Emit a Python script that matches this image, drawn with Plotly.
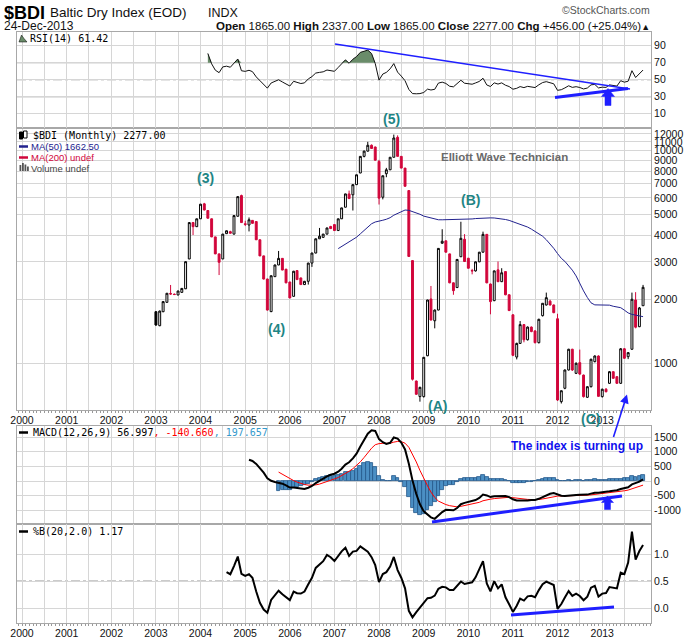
import math
import pandas as pd
import plotly.graph_objects as go

# ---------------- data (monthly $BDI candles, Jan 2003 .. Dec 2013) ----------------
months = pd.date_range("2003-01-01", periods=132, freq="MS").strftime("%Y-%m-%d").tolist()

opens = [1748, 1502, 1748, 1935, 2130, 2112, 2095, 2155, 2240, 3095, 4590, 4390,
         4780, 5620, 5230, 4780, 3930, 3270, 3095, 4070, 4160, 4050, 4915, 6150,
         4530, 4470, 4700, 4640, 3810, 3200, 2490, 1750, 2555, 2900, 3115, 2770,
         2410, 2065, 2730, 2520, 2345, 2430, 2960, 3300, 3850, 3910, 4050, 4400,
         4490, 4210, 4780, 5420, 6260, 6200, 6920, 7850, 9400, 9950, 10600, 10400,
         8900, 6040, 7790, 8130, 9310, 11550, 9400, 8280, 6490, 3040, 825, 697,
         697, 1085, 2006, 1585, 1780, 3670, 3765, 3270, 2390, 2270, 3170, 3830,
         3120, 2730, 2720, 3000, 3330, 4040, 2360, 1970, 2750, 2420, 2700, 2100,
         1690, 1070, 1240, 1520, 1290, 1480, 1420, 1250, 1675, 1880, 1960, 1880,
         1620, 660, 763, 930, 1164, 897, 1007, 880, 692, 776, 1018, 1082,
         697, 755, 805, 913, 865, 805, 1170, 1074, 1164, 1985, 1486, 1865]

highs = [1760, 1770, 1960, 2140, 2335, 2130, 2195, 2260, 3010, 4600, 4620, 4790,
         5620, 5680, 5250, 4800, 3940, 3280, 4060, 4210, 4200, 4960, 6090, 6210,
         4680, 4850, 4720, 4650, 3820, 3210, 2500, 2590, 2910, 3375, 3120, 2780,
         2420, 2720, 2740, 2530, 2440, 2970, 3310, 3860, 4330, 4060, 4340, 4430,
         4500, 4790, 5390, 6270, 6490, 6930, 7710, 9420, 10000, 11000, 10700, 10450,
         9050, 7630, 8300, 9320, 11900, 11800, 9410, 8290, 6500, 3060, 830, 775,
         1070, 1990, 2310, 1790, 3480, 4270, 3780, 3280, 2400, 3090, 4630, 4050,
         3130, 2780, 3010, 3340, 4160, 4050, 2370, 2730, 3010, 2800, 2710, 2110,
         1700, 1250, 1580, 1530, 1490, 1490, 1430, 1620, 1920, 2150, 1990, 1890,
         1710, 745, 935, 1170, 1170, 1010, 1160, 885, 780, 1050, 1090, 1090,
         760, 765, 920, 915, 870, 1180, 1180, 1130, 2150, 2160, 1840, 2337]

lows = [1500, 1495, 1740, 1930, 2100, 2095, 2090, 2150, 2235, 3090, 4010, 4380,
        4770, 5240, 4800, 3920, 3260, 2600, 3090, 4060, 4080, 4040, 4900, 4580,
        4420, 4170, 4540, 3800, 3190, 2480, 1770, 1740, 2550, 2895, 2740, 2380,
        2020, 2060, 2470, 2340, 2340, 2345, 2840, 3290, 3840, 3900, 4040, 4280,
        4200, 4200, 4770, 5410, 5940, 5230, 6910, 7840, 9300, 9900, 10200, 8990,
        5580, 5900, 7500, 8100, 9300, 9380, 8270, 6790, 3170, 830, 710, 660,
        690, 1080, 1590, 1460, 1775, 3650, 3320, 2380, 2100, 2260, 3160, 3000,
        2790, 2620, 2700, 2990, 3320, 2380, 1700, 1960, 2410, 2410, 2090, 1760,
        1080, 1043, 1235, 1255, 1280, 1400, 1240, 1240, 1660, 1870, 1870, 1720,
        665, 647, 755, 925, 920, 890, 880, 690, 688, 770, 1010, 697,
        690, 730, 800, 845, 800, 800, 1050, 1046, 1160, 1460, 1480, 1865]

closes = [1514, 1760, 1950, 2135, 2118, 2105, 2187, 2250, 3005, 4590, 4390, 4780,
          5600, 5260, 4810, 3930, 3270, 2985, 4050, 4200, 4090, 4950, 6080, 4590,
          4500, 4730, 4550, 3810, 3200, 2490, 1780, 2580, 2900, 3115, 2745, 2390,
          2030, 2710, 2475, 2345, 2430, 2960, 3300, 3850, 3960, 4050, 4330, 4300,
          4210, 4780, 5380, 6260, 5950, 6920, 7700, 9400, 9950, 10600, 10240, 9020,
          5980, 7620, 8130, 9310, 11470, 9400, 8280, 6800, 3180, 841, 715, 771,
          1067, 1985, 1598, 1780, 3470, 3750, 3330, 2390, 2196, 3080, 3870, 3010,
          2800, 2720, 3000, 3330, 4040, 2390, 1950, 2720, 2420, 2665, 2100, 1770,
          1090, 1240, 1520, 1290, 1480, 1410, 1250, 1610, 1915, 2035, 1880, 1730,
          672, 743, 930, 1164, 930, 1000, 890, 697, 776, 1045, 1082, 699,
          755, 735, 913, 850, 805, 1170, 1056, 1122, 2000, 1478, 1821, 2277]

year_labels = [str(y) for y in range(2000, 2014)]
price_ticks = [1000, 2000, 3000, 4000, 5000, 6000, 7000, 8000, 9000, 10000, 11000, 12000]
rsi_ticks = [10, 30, 50, 70, 90]
macd_ticks = [-1000, -500, 0, 500, 1000, 1500]
pctb_ticks = [0.0, 0.5, 1.0]
pctb_ticktext = ["0.0", "0.5", "1.0"]


# ---------------- indicators computed from the closes ----------------
def sma(vals, n):
    out = [None] * len(vals)
    for i in range(n - 1, len(vals)):
        out[i] = sum(vals[i - n + 1:i + 1]) / n
    return out


def ema(vals, n):
    out = [None] * len(vals)
    start = next(i for i, v in enumerate(vals) if v is not None)
    seed = start + n - 1
    if seed >= len(vals):
        return out
    out[seed] = sum(vals[start:seed + 1]) / n
    k = 2.0 / (n + 1)
    for i in range(seed + 1, len(vals)):
        out[i] = vals[i] * k + out[i - 1] * (1 - k)
    return out


def rsi(vals, n=14):
    out = [None] * len(vals)
    ch = [vals[i] - vals[i - 1] for i in range(1, len(vals))]
    g = [max(c, 0) for c in ch]
    l = [max(-c, 0) for c in ch]
    ag = sum(g[:n]) / n
    al = sum(l[:n]) / n
    out[n] = 100 - 100 / (1 + ag / al) if al > 0 else 100
    for i in range(n + 1, len(vals)):
        ag = (ag * (n - 1) + g[i - 1]) / n
        al = (al * (n - 1) + l[i - 1]) / n
        out[i] = 100 - 100 / (1 + ag / al) if al > 0 else 100
    return out


def pctb(vals, n=20, k=2.0):
    out = [None] * len(vals)
    for i in range(n - 1, len(vals)):
        w = vals[i - n + 1:i + 1]
        m = sum(w) / n
        sd = (sum((x - m) ** 2 for x in w) / n) ** 0.5
        out[i] = (vals[i] - (m - k * sd)) / (2 * k * sd) if sd > 0 else 0.5
    return out


ma50 = sma(closes, 50)
rsi14 = rsi(closes, 14)
e12 = ema(closes, 12)
e26 = ema(closes, 26)
macd = [a - b if (a is not None and b is not None) else None for a, b in zip(e12, e26)]
signal = ema(macd, 9)
hist = [a - b if (a is not None and b is not None) else None for a, b in zip(macd, signal)]
pb = pctb(closes, 20, 2.0)

# ---------------- styling ----------------
RED = "#d1063b"
NAVY = "#22228e"
GRID = "#d6d6d6"
BORDER = "#a8a8a8"
BLUE = "#1f1fff"
TEAL = "#1f8585"
SANS = "Liberation Sans"
MONO = "DejaVu Sans Mono"

W, H = 700, 639
PL, PR, PT, PB = 17, 651, 32, 623


def X(px):
    return (px - PL) / (PR - PL)


def Y(py):
    return (PB - py) / (PB - PT)


fig = go.Figure()

# candles: red when close below previous close, black otherwise; filled when close < open
red_idx = [i for i in range(len(closes)) if i > 0 and closes[i] < closes[i - 1]]
red_set = set(red_idx)
blk_idx = [i for i in range(len(closes)) if i not in red_set]


def sub(a, idx):
    return [a[i] for i in idx]


for idx, col in [(blk_idx, "#000000"), (red_idx, RED)]:
    fig.add_trace(go.Candlestick(
        x=sub(months, idx), open=sub(opens, idx), high=sub(highs, idx),
        low=sub(lows, idx), close=sub(closes, idx),
        increasing=dict(line=dict(color=col, width=1), fillcolor="#ffffff"),
        decreasing=dict(line=dict(color=col, width=1), fillcolor=col),
        whiskerwidth=0, xaxis="x", yaxis="y", hoverinfo="skip", showlegend=False))

fig.add_trace(go.Scatter(x=months, y=ma50, mode="lines", line=dict(color=NAVY, width=1),
                         xaxis="x", yaxis="y", hoverinfo="skip", showlegend=False))

# RSI panel
rsi_base = [70 if r is not None else None for r in rsi14]
rsi_hi = [max(r, 70) if r is not None else None for r in rsi14]
fig.add_trace(go.Scatter(x=months, y=rsi_base, mode="lines", line=dict(width=0, color="rgba(0,0,0,0)"),
                         xaxis="x2", yaxis="y2", hoverinfo="skip", showlegend=False))
fig.add_trace(go.Scatter(x=months, y=rsi_hi, mode="lines", line=dict(width=0, color="rgba(0,0,0,0)"),
                         fill="tonexty", fillcolor="#6a8c6a",
                         xaxis="x2", yaxis="y2", hoverinfo="skip", showlegend=False))
fig.add_trace(go.Scatter(x=months, y=rsi14, mode="lines", line=dict(color="#111111", width=1),
                         xaxis="x2", yaxis="y2", hoverinfo="skip", showlegend=False))

# MACD panel
fig.add_trace(go.Bar(x=months, y=hist, width=2.62e9,
                     marker=dict(color="#4b8fc4", line=dict(color="#23588a", width=0.8)),
                     xaxis="x3", yaxis="y3", hoverinfo="skip", showlegend=False))
fig.add_trace(go.Scatter(x=months, y=signal, mode="lines", line=dict(color="#ff0000", width=1),
                         xaxis="x3", yaxis="y3", hoverinfo="skip", showlegend=False))
fig.add_trace(go.Scatter(x=months, y=macd, mode="lines", line=dict(color="#000000", width=2),
                         xaxis="x3", yaxis="y3", hoverinfo="skip", showlegend=False))

# %B panel
fig.add_trace(go.Scatter(x=months, y=pb, mode="lines", line=dict(color="#000000", width=2),
                         xaxis="x4", yaxis="y4", hoverinfo="skip", showlegend=False))

# ---------------- axes ----------------
xt_vals, xt_text = [], []
for y in year_labels:
    xt_vals += [f"{y}-01-01", f"{y}-07-01"]
    xt_text += [y, ""]

xr = ["1999-11-21", "2014-02-04"]
base_x = dict(type="date", range=xr, tickmode="array", tickvals=xt_vals, ticktext=xt_text,
              showgrid=True, gridcolor=GRID, gridwidth=1, zeroline=False,
              showline=True, linecolor=BORDER, linewidth=1, mirror=True, ticks="",
              tickfont=dict(family=SANS, size=10.5, color="#111"))
minor_x = dict(ticks="outside", ticklen=2, tickcolor="#999", dtick="M1", tick0="2000-01-01", showgrid=False)
base_y = dict(side="right", showgrid=True, gridcolor=GRID, gridwidth=1, zeroline=False,
              showline=True, linecolor=BORDER, linewidth=1, mirror=True, ticks="",
              tickfont=dict(family=SANS, size=10.5, color="#111"))

d_rsi = [Y(127.5), 1.0]
d_price = [Y(410), Y(127.5)]
d_macd = [Y(524), Y(426)]
d_pb = [0.0, Y(524)]

layout = dict(
    width=W, height=H,
    margin=dict(l=PL, r=W - PR, t=PT, b=H - PB, autoexpand=False),
    paper_bgcolor="white", plot_bgcolor="white",
    showlegend=False, bargap=0, boxgap=0.2,
    xaxis=dict(base_x, anchor="y", showticklabels=True, rangeslider=dict(visible=False), minor=minor_x),
    xaxis2=dict(base_x, anchor="y2", matches="x", showticklabels=False),
    xaxis3=dict(base_x, anchor="y3", matches="x", showticklabels=False),
    xaxis4=dict(base_x, anchor="y4", matches="x", showticklabels=True, minor=minor_x),
    yaxis=dict(base_y, domain=d_price, type="log", anchor="x",
               range=[math.log10(603), math.log10(12850)],
               tickmode="array", tickvals=price_ticks, ticktext=[str(v) for v in price_ticks]),
    yaxis2=dict(base_y, domain=d_rsi, anchor="x2", range=[-6.2, 106.1],
                tickmode="array", tickvals=rsi_ticks, ticktext=[str(v) for v in rsi_ticks]),
    yaxis3=dict(base_y, domain=d_macd, anchor="x3", range=[-1473, 1884],
                tickmode="array", tickvals=macd_ticks, ticktext=[str(v) for v in macd_ticks]),
    yaxis4=dict(base_y, domain=d_pb, anchor="x4", range=[-0.278, 1.561],
                tickmode="array", tickvals=pctb_ticks, ticktext=pctb_ticktext),
)
fig.update_layout(**layout)

# ---------------- shapes ----------------
shapes = []
for lvl in (70, 30):
    shapes.append(dict(type="line", xref="paper", yref="y2", x0=0, x1=1, y0=lvl, y1=lvl,
                       line=dict(color="#808080", width=1), layer="below"))
shapes.append(dict(type="line", xref="paper", yref="y2", x0=0, x1=1, y0=50, y1=50,
                   line=dict(color="#7a7a7a", width=1, dash="dashdot"), layer="below"))
shapes.append(dict(type="line", xref="paper", yref="y4", x0=0, x1=1, y0=0.5, y1=0.5,
                   line=dict(color="#7a7a7a", width=1, dash="dashdot"), layer="below"))


def pline(x0, y0, x1, y1, w, col=BLUE):
    return dict(type="line", xref="paper", yref="paper", x0=X(x0), y0=Y(y0), x1=X(x1), y1=Y(y1),
                line=dict(color=col, width=w))


def ppath(pts, col=BLUE, lc=None):
    d = "M " + " L ".join(f"{X(a):.5f},{Y(b):.5f}" for a, b in pts) + " Z"
    return dict(type="path", xref="paper", yref="paper", path=d, fillcolor=col,
                line=dict(color=lc or col, width=0.5))


# hand-drawn trend lines and arrows
shapes.append(pline(335, 44, 630, 89, 1.5))
shapes.append(pline(555, 97.5, 628, 88.5, 3))
shapes.append(ppath([(608, 88.5), (614.5, 96.5), (611, 96.5), (611, 105.5), (605, 105.5), (605, 96.5), (601.5, 96.5)]))
shapes.append(pline(432, 522, 622, 496, 3))
shapes.append(ppath([(607.5, 496), (613.5, 502.5), (610.5, 502.5), (610.5, 509.5), (604.5, 509.5), (604.5, 502.5), (601.5, 502.5)]))
shapes.append(pline(511, 615, 614, 607, 3))

# legend icons
shapes.append(pline(19, 146.5, 28, 146.5, 2.5, NAVY))
shapes.append(pline(19, 157.5, 28, 157.5, 2.5, RED))
shapes.append(pline(19, 432.5, 28, 432.5, 2.5, "#000"))
shapes.append(pline(19, 531.5, 28, 531.5, 2.5, "#000"))
for (a, b, c, d) in [(19.5, 132, 22.5, 139), (23.5, 131, 27, 138)]:
    shapes.append(dict(type="rect", xref="paper", yref="paper", x0=X(a), x1=X(c), y0=Y(d), y1=Y(b),
                       fillcolor="#000" if a < 21 else "#fff", line=dict(color="#000", width=1)))
for (a, b) in [(19.5, 165), (22, 163), (24.5, 164.5), (27, 166.5)]:
    shapes.append(dict(type="rect", xref="paper", yref="paper", x0=X(a), x1=X(a + 1.8), y0=Y(171), y1=Y(b),
                       fillcolor="#555", line=dict(width=0)))
shapes.append(ppath([(19, 42), (21.5, 35), (24, 38.5), (27, 42)], "#6a8c6a", "#000"))
fig.update_layout(shapes=shapes)

# ---------------- annotations ----------------
anns = []


def txt(t, x, y, size, color="#111", family=SANS, xanchor="left", yanchor="middle"):
    anns.append(dict(text=t, x=X(x), y=Y(y), xref="paper", yref="paper", showarrow=False,
                     xanchor=xanchor, yanchor=yanchor, font=dict(family=family, size=size, color=color)))


txt("<b>$BDI</b>", 2, 13, 18, "#000")
txt("Baltic Dry Index (EOD)", 48, 13, 13.5, "#111")
txt("INDX", 206, 13, 12.5, "#111")
txt("24-Dec-2013", 2, 25.5, 12, "#111")
txt("©StockCharts.com", 652, 10, 10.5, "#555", xanchor="right")
txt("<b>Open</b> 1865.00 <b>High</b> 2337.00 <b>Low</b> 1865.00 <b>Close</b> 2277.00 "
    "<b>Chg</b> +456.00 (+25.04%)<span style='font-size:9px'>▲</span>", 652, 25.5, 11.5, "#111", xanchor="right")

txt("RSI(14) 61.42", 28, 38.5, 10, "#000", MONO)
txt("$BDI (Monthly) 2277.00", 31, 135, 10, "#000", MONO)
txt("MA(50) 1662.50", 29, 146.5, 9.5, NAVY)
txt("MA(200) undef", 29, 157.5, 9.5, RED)
txt("Volume undef", 29, 168, 9.5, "#444")
txt("MACD(12,26,9) 56.997<span style='color:#ff0000'>, -140.660</span>"
    "<span style='color:#3399cc'>, 197.657</span>", 31, 432.5, 10, "#000", MONO)
txt("%B(20,2.0) 1.17", 31, 531.5, 10, "#000", MONO)

for lab, x, y in [("(3)", 205.5, 177.5), ("(4)", 276, 329), ("(5)", 391.5, 118.5),
                  ("(B)", 470.5, 200.5), ("(A)", 437.5, 406), ("(C)", 590.5, 418.5)]:
    txt(f"<b>{lab}</b>", x, y, 14, TEAL, xanchor="center")

txt("<b>Elliott Wave Technician</b>", 504, 157, 11.5, "#6a6a6a", xanchor="center")
txt("<b>The index is turning up</b>", 577, 446, 12, "#1010ee", xanchor="center")

anns.append(dict(x=X(627), y=Y(394.5), xref="paper", yref="paper", text="", showarrow=True,
                 ax=-14, ay=44, arrowhead=2, arrowsize=1.1, arrowwidth=1.6, arrowcolor=BLUE))
fig.update_layout(annotations=anns)

fig.write_html("out.html", config={"displayModeBar": False},
               post_script="document.body.style.margin='0';document.body.style.padding='0';"
                           "document.body.style.overflow='hidden';")
